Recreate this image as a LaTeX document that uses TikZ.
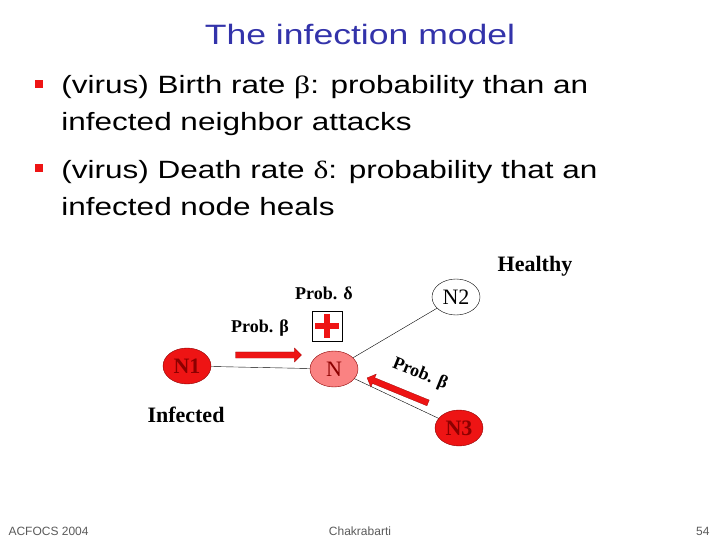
\documentclass[tikz,border=0pt]{standalone}
\usepackage{fontspec}
\setmainfont{Liberation Sans}
\newfontfamily\timesfont{Liberation Serif}
\usetikzlibrary{shapes.geometric,shapes.arrows}

\definecolor{titleblue}{RGB}{51,51,170}
\definecolor{infred}{RGB}{238,20,20}
\definecolor{darkred}{RGB}{140,0,0}
\definecolor{sickpink}{RGB}{250,130,130}
\definecolor{footgray}{RGB}{90,90,90}

\tikzset{
  host/.style={ellipse, draw=darkred, thin, minimum width=48pt, minimum height=36pt, inner sep=0pt,
    font=\timesfont\fontsize{22}{24}\selectfont},
  infected/.style={host, fill=infred, text=darkred},
  healthy/.style={host, draw=black, fill=white, text=black},
  attack/.style={single arrow, fill=infred, draw=darkred, very thin, inner sep=3pt,
    single arrow head extend=4pt, single arrow head indent=0pt, minimum height=66pt},
  problabel/.style={font=\timesfont\bfseries\fontsize{18}{20}\selectfont},
  caption/.style={font=\timesfont\bfseries\fontsize{22}{24}\selectfont},
  bullet/.style={fill=infred, minimum size=8pt, inner sep=0pt},
  bodytext/.style={anchor=west, align=left, xscale=1.26, font=\fontsize{25}{37}\selectfont},
  footer/.style={font=\fontsize{12}{14}\selectfont, text=footgray}
}

\begin{document}
\begin{tikzpicture}[x=1pt, y=-1pt]
    \useasboundingbox (0,0) rectangle (720,540);

    % title and bullets
    \node[text=titleblue, xscale=1.27, font=\fontsize{28}{34}\selectfont] (title) at (360,34) {The infection model};

    \node[bullet] (b1) at (38.5,84) {};
    \node[bodytext] (t1) at (57,106) {(virus) Birth rate {\timesfont β}: probability than an\\infected neighbor attacks};
    \node[bullet] (b2) at (38.5,168) {};
    \node[bodytext] (t2) at (57,188) {(virus) Death rate {\timesfont δ}: probability that an\\infected node heals};

    % the hosts
    \node[infected, font=\timesfont\bfseries\fontsize{22}{24}\selectfont] (N1) at (187,366) {N1};
    \node[host, fill=sickpink, text=darkred] (N) at (334,369) {N};
    \node[healthy] (N2) at (456,297) {N2};
    \node[infected, font=\timesfont\bfseries\fontsize{22}{24}\selectfont] (N3) at (459,428) {N3};

    \draw (N1) -- (N);
    \draw (N) -- (N2);
    \draw (N) -- (N3);

    % attacks and healing
    \node[attack] (a1) at (267,355) {};
    \node[attack, rotate=157.7] (a3) at (399,391) {};
    \node[problabel] (pb1) at (260,328) {Prob. β};
    \node[problabel, rotate=-22] (pb3) at (420,374) {Prob. β};

    \node[draw, minimum size=30pt, inner sep=0pt, fill=white] (heal) at (327,326) {};
    \fill[infred] ([shift={(-12,-3)}]heal.center) rectangle ([shift={(12,3)}]heal.center);
    \fill[infred] ([shift={(-3,-12)}]heal.center) rectangle ([shift={(3,12)}]heal.center);
    \node[problabel] (pd) at (324,293) {Prob. δ};

    \node[caption] (healthy) at (535,266) {Healthy};
    \node[caption] (infct) at (186,415) {Infected};

    % footer
    \node[footer, anchor=west] (f1) at (5,531) {ACFOCS 2004};
    \node[footer] (f2) at (360,531) {Chakrabarti};
    \node[footer, anchor=east] (f3) at (713,531) {54};
\end{tikzpicture}
\end{document}
